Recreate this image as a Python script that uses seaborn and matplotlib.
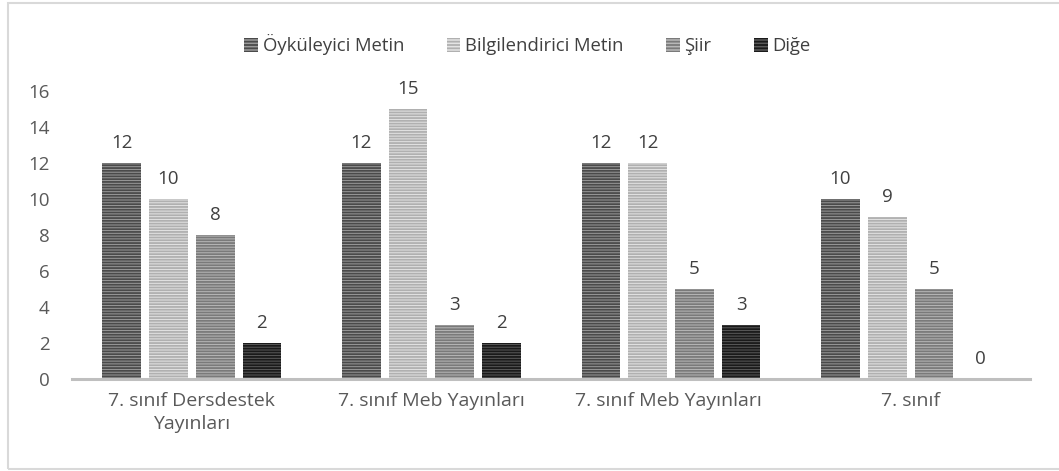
import matplotlib.pyplot as plt
import matplotlib.patches as mpatches
import seaborn as sns
import pandas as pd

# chart data
categories = ['7. sınıf Dersdestek\nYayınları', '7. sınıf Meb Yayınları',
              '7. sınıf Meb Yayınları ', '7. sınıf']
series = ['Öyküleyici Metin', 'Bilgilendirici Metin', 'Şiir', 'Diğe']
values = {
    'Öyküleyici Metin': [12, 12, 12, 10],
    'Bilgilendirici Metin': [10, 15, 12, 9],
    'Şiir': [8, 3, 5, 5],
    'Diğe': [2, 2, 3, 0],
}
y_ticks = [0, 2, 4, 6, 8, 10, 12, 14, 16]

face_colors = ['#9a9a9a', '#e4e4e4', '#b8b8b8', '#5a5a5a']
stripe_colors = ['#4a4a4a', '#b0b0b0', '#7a7a7a', '#1a1a1a']

rows = []
for s in series:
    for c, v in zip(categories, values[s]):
        rows.append({'Kategori': c, 'Seri': s, 'Değer': v})
df = pd.DataFrame(rows)

sns.set_style('white')
plt.rcParams['font.family'] = ['Open Sans', 'DejaVu Sans']
plt.rcParams['hatch.linewidth'] = 1.3

fig = plt.figure(figsize=(10.59, 4.71), dpi=100)
ax = fig.add_axes([0.068, 0.195, 0.905, 0.612])

sns.barplot(data=df, x='Kategori', y='Değer', hue='Seri', hue_order=series,
            order=categories, palette=face_colors, width=0.78, gap=0.17,
            ax=ax, legend=False)

for i, s in enumerate(series):
    for bar in ax.containers[i]:
        bar.set_hatch('------')
        bar.set_edgecolor(stripe_colors[i])
        bar.set_linewidth(0)
    for bar, v in zip(ax.containers[i], values[s]):
        ax.text(bar.get_x() + bar.get_width() / 2, v + 0.6, str(v),
                ha='center', va='bottom', fontsize=13.5, color='#404040',
                clip_on=False)

ax.set_ylim(0, 16)
ax.set_xlim(-0.5, 3.5)
ax.set_yticks(y_ticks)
ax.set_xlabel('')
ax.set_ylabel('')
ax.tick_params(axis='both', labelsize=13.5, colors='#595959', length=0)
ax.tick_params(axis='x', pad=9)
ax.tick_params(axis='y', pad=16)
for lbl in ax.get_xticklabels():
    lbl.set_linespacing(1.4)
    lbl.set_fontsize(14)
for side in ['top', 'right', 'left']:
    ax.spines[side].set_visible(False)
ax.spines['bottom'].set_color('#bfbfbf')
ax.spines['bottom'].set_linewidth(2.2)

handles = []
for i, s in enumerate(series):
    handles.append(mpatches.Patch(facecolor=face_colors[i], edgecolor=stripe_colors[i],
                                  hatch='-----', linewidth=0, label=s))
fig.legend(handles=handles, loc='center', bbox_to_anchor=(0.498, 0.905), ncol=4,
           frameon=False, fontsize=13.3, handlelength=0.75, handleheight=0.75,
           handletextpad=0.25, columnspacing=2.3, labelcolor='#404040')

# outer chart frame
fig.add_artist(mpatches.Rectangle((8 / 1059, 2 / 471), 1.05, 466 / 471,
                                  transform=fig.transFigure, fill=False,
                                  edgecolor='#d9d9d9', linewidth=1.5))

fig.savefig('out.png', dpi=100)
